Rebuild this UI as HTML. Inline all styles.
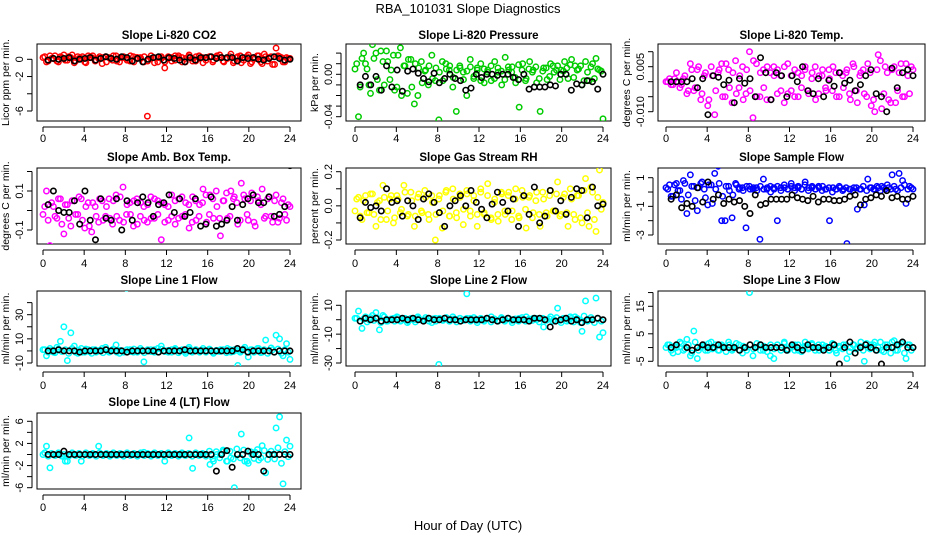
<!DOCTYPE html>
<html><head><meta charset="utf-8"><title>RBA_101031 Slope Diagnostics</title>
<style>
html,body{margin:0;padding:0;background:#fff;width:936px;height:540px;overflow:hidden}
svg{display:block;font-family:"Liberation Sans",Arial,sans-serif}
</style></head>
<body>
<svg id="chart" width="936" height="540" viewBox="0 0 936 540" xmlns="http://www.w3.org/2000/svg">
<text x="468" y="13" font-size="13" text-anchor="middle">RBA_101031  Slope Diagnostics</text>
<text x="468" y="530" font-size="13" text-anchor="middle">Hour of Day (UTC)</text>
</svg>
<script>
const panelTitles = ["Slope Li-820 CO2","Slope Li-820 Pressure","Slope Li-820 Temp.","Slope Amb. Box Temp.","Slope Gas Stream RH","Slope Sample Flow","Slope Line 1 Flow","Slope Line 2 Flow","Slope Line 3 Flow","Slope Line 4 (LT) Flow"];
const panelYTitles = ["Licor ppm per min.","kPa per min.","degrees C per min.","degrees C per min.","percent per min.","ml/min per min.","ml/min per min.","ml/min per min.","ml/min per min.","ml/min per min."];
const panelColors = ["#ff0000","#00cc00","#ff00ff","#ff00ff","#ffff00","#0000ff","#00ffff","#00ffff","#00ffff","#00ffff"];
const xTicks = [0,4,8,12,16,20,24];
const yTicks = [[-6,-4,-2,0],[0.02,0.01,0,-0.01,-0.02,-0.03,-0.04],[0.01,0.005,0,-0.005,-0.01],[0.2,0.1,0,-0.1],[0.2,0.1,0,-0.1,-0.2],[1,0,-1,-2,-3],[40,30,20,10,0,-10],[10,0,-10,-20,-30],[20,15,10,5,0,-5],[6,4,2,0,-2,-4,-6]];
const yTickLabels = [["-6","-2","0"],["0.00","-0.04"],["0.005","-0.010"],["0.1","-0.1"],["0.2","0.0","-0.2"],["1","-1","-3"],["30","10","-10"],["10","-10","-30"],["15","5","-5"],["6","2","-2","-6"]];
const yLabelValues = [[-6,-2,0],[0,-0.04],[0.005,-0.01],[0.1,-0.1],[0.2,0,-0.2],[1,-1,-3],[30,10,-10],[10,-10,-30],[15,5,-5],[6,2,-2,-6]];

// colored slopes, first pass (evenly spaced over 0-24 h)
const coloredValues = [
[0.2,-0.3,0.4,0.1,-0.2,0.3,0.5,-0.1,0.2,-0.4,0.3,0.1,-0.3,0.4,0.2,-0.2,0.1,-0.5,0.3,0.2,-0.1,0.4,-0.3,0.2,0.1,-0.2,0.3,0.2,0.2,-0.3,-6.6,0.1,0.2,-0.3,0.3,-1.0,0.1,-0.2,0.4,0.2,-0.3,0.1,0.5,-0.2,0.3,0.1,-0.4,0.2,0.3,-0.1,0.4,0.2,-0.3,0.1,0.6,-0.2,0.3,-0.4,0.2,0.5,-0.3,0.1,0.4,-0.5,0.3,0.2,-0.6,1.3,0.3,-0.3,0.2,0.1],
[0.005,-0.04,0.015,0.01,-0.01,0.028,0.02,-0.015,0.012,0.022,-0.005,0.018,-0.012,0.025,0.008,-0.018,0.014,-0.028,-0.02,0.012,0.003,-0.01,0.018,-0.006,-0.043,0.012,0.01,0.004,-0.012,-0.035,0.008,0.002,-0.02,0.014,-0.004,0.006,0.01,-0.008,0.004,-0.006,0.012,0.002,-0.01,0.016,0.004,0.007,-0.008,-0.031,0.01,-0.004,0.012,0.004,-0.008,-0.035,0.006,-0.005,0.01,0.002,0.008,0.004,0.012,-0.004,0.014,0.008,0.005,-0.01,0.012,-0.006,0.01,0.015,0.004,-0.042],
[0,0.001,-0.001,0.003,-0.002,0.001,-0.004,0.006,-0.003,0.004,-0.006,0.002,-0.008,0.005,-0.011,0.003,0.006,-0.005,0.004,-0.007,0.007,-0.002,0.005,-0.004,0.01,-0.012,0.006,-0.005,0.004,-0.006,0.003,0.005,-0.004,0.002,-0.007,0.006,-0.003,0.004,-0.005,0.002,0.005,-0.004,0.003,-0.006,0.002,0.004,-0.003,0.001,0.005,-0.005,0.003,-0.002,0.004,-0.006,0.005,-0.007,0.003,-0.004,0.006,-0.008,-0.010,0.009,-0.009,0.005,-0.006,0.004,-0.007,0.003,-0.005,0.006,-0.004,0.004],
[-0.02,0.1,-0.18,0.02,-0.04,0.06,-0.12,0.03,-0.08,0.05,-0.02,0.06,-0.09,0.04,-0.11,0.02,-0.06,0.05,-0.03,0.06,-0.07,0.08,-0.05,0.12,-0.02,0.04,-0.08,0.06,-0.03,0.02,-0.06,0.07,-0.04,0.05,-0.15,0.03,-0.05,0.08,-0.07,0.06,-0.03,0.04,-0.09,0.07,-0.05,0.03,0.11,-0.06,0.08,-0.04,0.02,-0.13,0.05,-0.04,0.1,0.07,-0.07,0.14,0.06,-0.05,0.09,-0.08,0.05,0.11,-0.03,0.07,-0.06,0.08,-0.04,0.06,-0.05,0.02],
[-0.03,0.05,-0.08,0.06,-0.04,0.07,-0.12,0.03,0.12,-0.08,0.04,-0.1,0.06,-0.04,0.12,-0.06,0.08,-0.12,0.05,-0.03,0.09,-0.05,0.06,-0.2,0.04,-0.13,0.08,-0.06,0.1,-0.04,0.07,-0.11,0.09,-0.03,0.06,-0.12,0.1,-0.05,0.13,-0.08,0.04,-0.09,0.07,-0.05,0.08,-0.03,0.1,-0.07,0.05,-0.13,0.06,-0.04,0.08,-0.12,0.04,-0.06,0.09,-0.03,0.14,-0.05,0.07,-0.12,0.04,-0.08,0.06,-0.1,0.16,-0.12,0.08,-0.15,0.21,0.02],
[0.3,0.5,-0.3,0.6,0.1,0.8,-1.5,1.2,0.4,-1.3,0.6,0.2,-0.9,0.5,1.3,1.8,-2.0,-2.0,0.4,-1.8,0.6,0.2,0.3,-2.5,0.4,0.2,0.3,-3.3,0.9,0.2,0.4,0.3,-2.0,0.3,0.5,0.2,0.6,0.3,0.4,0.2,0.7,0.3,0.4,0.2,0.3,0.4,0.2,-2.0,0.3,0.2,0.3,0.2,-3.6,0.2,0.3,-1.2,0.2,-0.9,0.9,0.3,0.2,0.3,0.4,0.2,0.3,1.2,0.2,1.3,0.8,-0.8,0.4,0.2],
[1,-4,2,-1,3,8,20,-8,15,4,-2,2,-1,1,-2,1,0,2,3,-1,1,5,-2,0,52,1,-1,0,2,-9,0,1,-1,2,4,0,-1,1,2,0,1,-2,3,0,1,-1,2,0,1,-2,0,1,0,2,-1,1,-12,0,3,-5,1,0,2,-1,9,0,1,13,10,-4,6,-7],
[1,6,-6,2,0,3,5,-7,3,-1,0,1,2,-1,0,-2,1,0,2,24,0,1,-2,1,-31,0,1,-1,2,0,1,0,18,1,0,-2,1,0,1,2,0,-1,1,0,1,-2,0,1,0,2,0,1,0,1,-5,0,2,0,8,-2,1,0,1,2,0,-8,13,0,24,15,-12,-9],
[0,1,-2,0,2,-1,3,-3,6,-4,0,1,-1,2,0,-1,1,0,2,-1,0,1,-2,0,20,-3,0,1,-1,0,-3,-4,1,0,2,-1,0,1,-1,0,2,0,1,0,-1,1,0,-1,1,-2,0,1,-4,0,1,0,2,-5,0,1,2,0,-1,1,0,2,-1,1,2,-4,1,0],
[0,1.5,-2.4,0,0,0,0,-1.2,0,0,0,-1.2,0,0,0,0,1.5,0,0,0,0,0,0,0,0,0,0,0,0,0.4,0,0,0,0,0,-1.2,0,0,0,0,0,0,3,-2.5,0,0,0,0,-1.8,-1.2,0,0,0.6,-1.2,-0.6,-6,0,3.7,-1.2,-1.6,0,0.4,-1,1.6,-3.3,0,0,4.8,6.8,-5.3,2.6,1.5]
];
// colored slopes, second pass (offset half a step)
const coloredValues2 = [
[0.3,-0.2,0.1,0.4,-0.3,0.2,-0.1,0.3,0.5,-0.2,0.1,0.3,-0.4,0.2,0.4,-0.1,0.3,0.2,-0.3,0.1,0.4,-0.2,0.2,0.3,-0.1,0.4,-0.3,0.2,0.1,0.3,-0.2,0.4,-0.4,0.2,0.1,-0.3,0.3,0.2,-0.1,0.4,0.2,-0.3,0.3,0.1,-0.2,0.4,0.2,-0.1,0.3,-0.3,0.2,0.5,-0.2,0.1,0.3,-0.4,0.2,0.4,-0.1,0.3,-0.5,0.2,0.4,-0.3,0.6,-0.2,0.3,-0.6,0.4,0.2,-0.3,0.1],
[0.01,-0.012,0.02,0.005,-0.018,0.015,-0.005,0.022,-0.01,0.012,0.004,-0.015,0.018,-0.02,0.008,0.014,-0.012,0.01,0.006,-0.008,0.004,0.008,-0.004,0.006,0.002,-0.006,0.005,0.008,-0.003,0.004,0.006,-0.005,0.003,0.007,-0.002,0.004,-0.006,0.005,0.002,0.008,-0.004,0.006,0.003,-0.005,0.007,0.002,-0.003,0.009,0.004,-0.006,0.005,0.002,0.007,-0.004,0.003,0.006,-0.002,0.008,0.004,-0.005,0.003,0.006,0.009,-0.003,0.004,0.008,-0.006,0.002,0.007,-0.004,0.005,0.003],
[0,-0.001,0.001,0,-0.001,0.002,-0.003,0.004,-0.002,0.005,-0.004,0.003,-0.006,0.002,-0.003,0.004,-0.005,0.006,-0.002,0.003,-0.004,0.002,-0.006,0.004,-0.003,0.007,-0.005,0.003,-0.002,0.005,-0.006,0.002,0.004,-0.003,0.005,-0.004,0.002,-0.005,0.003,-0.002,0.004,-0.003,0.001,0.005,-0.004,0.002,-0.002,0.004,-0.003,0.003,-0.005,0.002,0.003,-0.004,0.006,-0.003,0.002,0.004,-0.005,0.003,-0.006,0.004,0.007,-0.004,0.003,-0.007,0.005,-0.003,0.006,-0.005,0.002,0.005],
[0.02,-0.05,0.04,-0.03,0.06,-0.07,0.03,-0.04,0.05,-0.02,0.07,-0.05,0.02,-0.08,0.04,-0.03,0.06,-0.05,0.02,-0.04,0.05,-0.03,0.07,-0.06,0.03,-0.02,0.05,-0.07,0.04,-0.05,0.03,-0.04,0.06,-0.02,0.04,-0.06,0.02,-0.03,0.05,-0.04,0.07,-0.02,0.03,-0.06,0.05,-0.03,0.04,0.08,-0.02,0.06,0.1,-0.04,0.05,0.09,-0.03,0.06,0.04,-0.05,0.08,-0.02,0.05,-0.06,0.07,0.03,-0.04,0.06,-0.03,0.05,-0.06,0.04,-0.02,0.03],
[0.04,-0.06,0.03,-0.04,0.07,-0.05,0.02,-0.08,0.05,-0.03,0.06,-0.07,0.04,-0.02,0.08,-0.05,0.03,-0.06,0.07,-0.04,0.05,-0.08,0.02,-0.05,0.06,-0.03,0.09,-0.06,0.04,-0.07,0.05,-0.02,0.07,-0.06,0.03,-0.05,0.08,-0.04,0.06,-0.07,0.02,-0.05,0.08,-0.03,0.06,-0.08,0.04,-0.06,0.09,-0.02,0.05,-0.07,0.03,-0.05,0.08,-0.04,0.06,-0.03,0.07,-0.06,0.05,-0.04,0.1,-0.05,0.06,-0.07,0.09,-0.04,0.11,-0.08,0.05,-0.02],
[0.2,-0.3,0.5,0.1,-0.5,0.6,-0.2,0.4,-0.6,0.3,0.7,-0.4,0.5,-0.8,0.2,0.6,-0.3,0.4,0.1,-0.2,0.5,0.3,0.1,0.4,0.2,0.3,0.1,0.4,0.2,0.3,0,0.2,0.4,0.1,0.3,0.2,0.4,0.1,0.3,0.2,0.5,0.1,0.3,0.2,0.4,0.1,0.2,0.3,0,0.2,0.4,0.1,0.3,0.2,0.1,0.3,0.2,0.4,0.1,0.3,0.2,0.4,0.1,0.3,0.5,0.2,0.4,0.1,0.3,0.5,0.2,0.3],
[1,-1,0.5,-1.5,1.5,-0.5,1,-2,2,-1,0.5,-1,1.5,-0.5,1,-1,0.5,-1.5,1,-0.5,1.5,-1,0.5,-1,1,-0.5,1.5,-1,0.5,-1.5,1,-0.5,1,-1,1.5,-0.5,0.5,-1,1,-1.5,0.5,-0.5,1.5,-1,1,-0.5,0.5,-1,1.5,-1,0.5,-0.5,1,-1.5,1,-0.5,0.5,-1,1.5,-0.5,1,-1,2,-1.5,1,-2,2.5,-1,1.5,-2,1,-1],
[1,-1,0.5,-1.5,1.5,-0.5,1,-2,2,-1,0.5,-1,1.5,-0.5,1,-1,0.5,-1.5,1,-0.5,1.5,-1,0.5,-1,1,-0.5,1.5,-1,0.5,-1.5,1,-0.5,1,-1,1.5,-0.5,0.5,-1,1,-1.5,0.5,-0.5,1.5,-1,1,-0.5,0.5,-1,1.5,-1,0.5,-0.5,1,-1.5,1,-0.5,0.5,-1,1.5,-0.5,1,-1,2,-1.5,1,-2,2.5,-1,1.5,-2,1,-1],
[1,-1,0.5,-1.5,1.5,-0.5,1,-2,2,-1,0.5,-1,1.5,-0.5,1,-1,0.5,-1.5,1,-0.5,1.5,-1,0.5,-1,1,-0.5,1.5,-1,0.5,-1.5,1,-0.5,1,-1,1.5,-0.5,0.5,-1,1,-1.5,0.5,-0.5,1.5,-1,1,-0.5,0.5,-1,1.5,-1,0.5,-0.5,1,-1.5,1,-0.5,0.5,-1,1.5,-0.5,1,-1,2,-1.5,1,-2,2.5,-1,1.5,-2,1,-1],
[0.3,-0.3,0.2,-0.2,0.3,-0.3,-1.2,-0.3,0.3,-0.2,0.2,-0.3,0.3,-0.2,0.2,-0.3,0.3,-0.2,0.2,-0.3,0.3,-0.2,0.2,-0.3,0.3,-0.2,0.2,-0.3,0.3,-0.2,0.2,-0.3,0.3,-0.2,0.2,-0.3,0.3,-0.2,0.2,-0.3,0.3,-0.2,0.2,-0.3,0.3,-0.2,0.2,-0.3,0.6,-0.8,0.5,-0.6,0.8,-1.2,0.6,-0.8,1.0,-0.6,0.8,-1.2,0.5,-0.7,0.9,-0.6,0.7,-0.9,0.6,-0.8,1.2,-1.6,0.5,-0.4]
];
// black (hourly-mean style) slopes, evenly spaced 0.5-24 h
const blackValues = [
[-0.1,0.1,0,0.1,0.2,-0.2,0,0.1,0.2,-0.1,0.1,0.3,0.1,0,0.3,0.2,-0.2,0.1,-0.3,0,0.2,0.3,-0.1,0.2,0.1,-0.1,-0.3,0.2,-0.1,0.2,0.2,0.3,0.1,0.2,0.2,0.2,-0.2,0.2,0.1,0.2,0,-0.1,0.1,0.3,0.1,-0.1,0],
[-0.01,-0.002,-0.01,-0.002,-0.015,0.008,-0.012,0.004,-0.016,0.003,0.005,0.001,-0.004,-0.007,0.001,-0.008,-0.004,0,-0.004,-0.006,-0.015,-0.013,0,-0.003,0,0,-0.001,0,0,-0.003,-0.005,0,-0.014,-0.012,-0.012,-0.012,-0.01,-0.011,0,0,-0.015,-0.009,-0.01,-0.006,-0.007,-0.014,0],
[0,0,0,0,0.001,-0.002,0.001,-0.011,0.002,0.0015,-0.001,0.0005,-0.007,0.001,-0.0005,0.001,-0.005,0.008,0.003,-0.006,0.003,0.002,-0.005,0.002,0,0.005,-0.003,-0.004,0.001,-0.005,0.0005,-0.0015,0.003,-0.0005,0.0005,-0.003,-0.001,0.002,0.004,-0.004,-0.005,-0.01,0.0045,-0.002,0.003,0.004,0.002],
[0.03,0.1,0,-0.01,-0.01,0.05,-0.07,0.1,-0.05,-0.15,0.06,-0.04,-0.05,0.06,-0.1,0.05,-0.05,0.04,0.07,0.04,-0.03,0.03,0.04,0.08,-0.01,0.06,-0.03,-0.01,0.06,-0.08,-0.07,0.07,-0.08,-0.07,-0.05,0.02,-0.05,0.03,0.06,0.08,0.04,0.04,0.07,-0.03,-0.02,0.02,0.23],
[-0.07,0.02,-0.01,0,-0.03,0.1,0.02,0.03,-0.06,0.03,0,-0.08,0.04,0.07,0.02,-0.04,-0.12,0,0.03,0.06,0,0.09,0.02,-0.02,-0.07,0.01,0.08,0.02,-0.03,0.04,-0.12,0.06,-0.05,0.11,-0.1,-0.06,0.09,-0.03,0.03,-0.05,0.05,0.1,0.09,-0.07,0.11,0,0.01],
[-0.5,-0.2,-1.1,-0.8,-1.0,0.3,-0.7,0.7,-0.5,-0.2,-0.8,-0.5,-0.7,-0.6,-1.0,-1.5,-0.2,-0.9,-0.8,-0.5,-0.5,-0.5,-0.5,-0.2,-0.4,-0.5,-0.6,-0.3,-0.7,-0.5,-0.5,-0.6,-0.6,-0.5,-0.3,-0.2,-0.9,-0.5,-0.4,-0.2,-0.3,0.1,-0.4,-0.3,-0.5,-0.5,-0.3],
[0,0,1,0,0,0,-1,0,0,0,0,1,0,0,0,-1,0,0,0,0,0,-1,0,0,0,0,1,0,0,0,0,0,0,0,0,0,2,1,-1,0,0,0,0,-1,0,0,0],
[-1,1,0,1,-1,0,0,0,1,0,1,0,-1,1,0,0,1,0,0,-1,0,0,0,0,1,0,-1,0,1,0,0,0,-1,1,1,0,-5,-1,0,1,-1,0,-2,0,0,1,0],
[0,1,-9,0,-1,0,1,0,0,1,0,0,0,-1,0,1,0,1,0,0,0,0,-1,1,0,-1,1,0,0,-1,0,1,-6,0,2,-2,0,1,0,-1,-6,0,0,1,2,0,0],
[0,0,0,0.6,0,0,0,0,0,0,0,0,0,0,0,0,0,0,0,0,0,0,0,0,0,0,0,0,0,0,0,0,-3,0,0.7,-2.3,0,0,0.6,0,0,-3,0,0,0,0,0]
];

// panel geometry (axis layout, not data)
const colX = [[37,301,43,290],[346,611,355,603],[658,925,666,913]];
const rowY = [[44,121,138,35],[168,244,263,157],[291,366,385,280],[413,489,507,402]];
const yRef = [[0,59.3,-6,111],[0,74.3,-0.04,116.7],[0.005,66.7,-0.01,111.7],[0.1,191,-0.1,230],[0.2,171.7,-0.2,240],[1,177.7,-3,235],[30,314.7,-10,363],[10,305.3,-30,363],[15,306.3,-5,361.3],[6,421.3,-6,487.7]];

const svg = document.getElementById('chart');
const NS = 'http://www.w3.org/2000/svg';
function mk(tag, attrs, parent){const e=document.createElementNS(NS,tag);for(const k in attrs)e.setAttribute(k,attrs[k]);(parent||svg).appendChild(e);return e;}

for(let p=0;p<10;p++){
  const col=p%3,row=Math.floor(p/3);
  const [bl,br,x0,x24]=colX[col];
  const [bt,bb,tickLabY,titleY]=rowY[row];
  const [va,pa,vb,pb]=yRef[p];
  const xs=h=>x0+(x24-x0)*h/24;
  const ys=v=>pa+(v-va)*(pb-pa)/(vb-va);
  const g=mk('g',{});
  
  
  const clip=mk('clipPath',{id:'clip'+p},g);
  mk('rect',{x:bl,y:bt,width:br-bl,height:bb-bt},clip);
  const t=mk('text',{x:(bl+br)/2,y:titleY+4,'font-size':11.5,'font-weight':'bold','text-anchor':'middle'},g);
  t.textContent=panelTitles[p];
  
  
  const yt=mk('text',{transform:`translate(${bl-28},${(bt+bb)/2}) rotate(-90)`,'font-size':10.5,'text-anchor':'middle'},g);
  yt.textContent=panelYTitles[p];
  
  
  const xa=mk('g',{stroke:'#000','stroke-width':1},g);
  
  
  mk('line',{x1:xs(0),x2:xs(24),y1:bb+6,y2:bb+6},xa);
  xTicks.forEach(v=>{
    mk('line',{x1:xs(v),x2:xs(v),y1:bb+6,y2:bb+11},xa);
    const l=mk('text',{x:xs(v),y:tickLabY+4,'font-size':11,'text-anchor':'middle',stroke:'none'},g);
    l.textContent=String(v);
    
    
  });
  const ya=mk('g',{stroke:'#000','stroke-width':1},g);
  
  
  const tk=yTicks[p];
  mk('line',{x1:bl-5,x2:bl-5,y1:ys(Math.max(...tk)),y2:ys(Math.min(...tk))},ya);
  tk.forEach(v=>mk('line',{x1:bl-5,x2:bl-10,y1:ys(v),y2:ys(v)},ya));
  yLabelValues[p].forEach((v,i)=>{
    const l=mk('text',{transform:`translate(${bl-14},${ys(v)}) rotate(-90)`,'font-size':11,'text-anchor':'middle'},g);
    l.textContent=yTickLabels[p][i];
    
    
  });
  const box=mk('rect',{x:bl,y:bt,width:br-bl,height:bb-bt,fill:'none',stroke:'#000','stroke-width':1},g);
  
  
  const pts=mk('g',{'clip-path':`url(#clip${p})`},g);
  const cv=coloredValues[p];
  cv.forEach((v,i)=>{
    const c=mk('circle',{cx:xs(i*24/(cv.length-1)),cy:ys(v),r:2.7,fill:'none',stroke:panelColors[p],'stroke-width':1.5},pts);
    
    
  });
  const cv2=coloredValues2[p];
  cv2.forEach((v,i)=>{
    const c=mk('circle',{cx:xs((i+0.5)*24/cv2.length),cy:ys(v),r:2.7,fill:'none',stroke:panelColors[p],'stroke-width':1.5},pts);
    
    
  });
  const bv=blackValues[p];
  bv.forEach((v,i)=>{
    const c=mk('circle',{cx:xs(0.5+i*23.5/(bv.length-1)),cy:ys(v),r:2.7,fill:'none',stroke:'#000','stroke-width':1.6},pts);
    
    
  });
}
</script>
</body></html>
